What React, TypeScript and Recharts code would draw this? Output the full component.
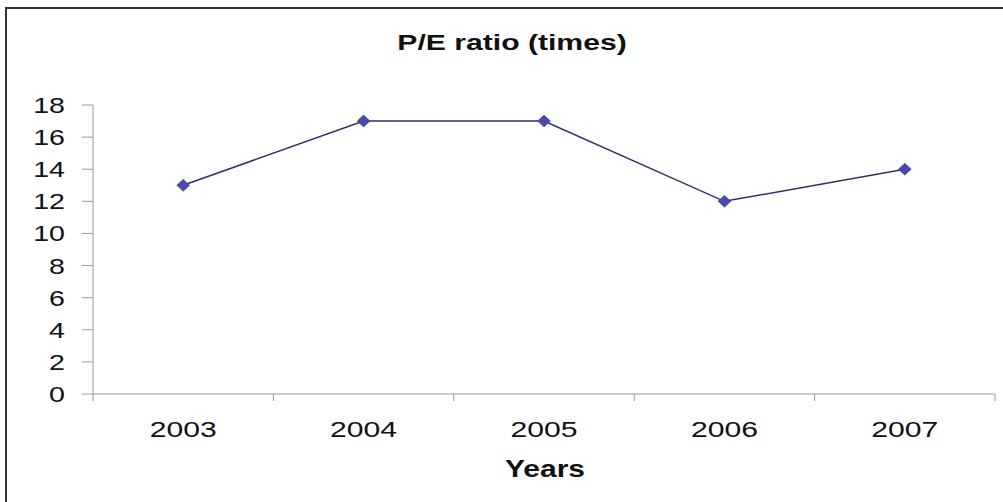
import React from "react";
import { LineChart, Line, XAxis, YAxis } from "recharts";

const YEARS = ["2003", "2004", "2005", "2006", "2007"];
const PE_RATIO = [13, 17, 17, 12, 14];
const Y_TICKS = [0, 2, 4, 6, 8, 10, 12, 14, 16, 18];

const data = YEARS.map((year, i) => ({ year, pe: PE_RATIO[i] }));

const FONT = "'Liberation Sans', Arial, sans-serif";
const AXIS = "#9a9a9a";
const STRETCH = 1.37;

function Diamond(props: any) {
  const { cx, cy, index } = props;
  if (cx == null || cy == null) return <g key={`d-${index}`} />;
  return (
    <polygon
      key={`d-${index}`}
      points={`${cx},${cy - 6} ${cx + 6.5},${cy} ${cx},${cy + 6} ${cx - 6.5},${cy}`}
      fill="#4a4aa8"
      stroke="#3c3c96"
      strokeWidth={0.5}
    />
  );
}

function YearTick(props: any) {
  const { x, y, payload, index, visibleTicksCount } = props;
  const half = payload && payload.offset ? payload.offset : 90.2;
  const last = index === visibleTicksCount - 1;
  return (
    <g>
      <line x1={x - half} y1={y} x2={x - half} y2={y + 7} stroke={AXIS} />
      {last && <line x1={x + half} y1={y} x2={x + half} y2={y + 7} stroke={AXIS} />}
      <g transform={`translate(${x},${y + 43})`}>
        <text
          transform={`scale(${STRETCH},1)`}
          textAnchor="middle"
          fontFamily={FONT}
          fontSize={22}
          fill="#111"
        >
          {payload.value}
        </text>
      </g>
    </g>
  );
}

function ValueTick(props: any) {
  const { x, y, payload } = props;
  return (
    <g transform={`translate(${x},${y + 8})`}>
      <text
        transform={`scale(1.3,1)`}
        textAnchor="end"
        fontFamily={FONT}
        fontSize={22}
        fill="#111"
      >
        {payload.value}
      </text>
    </g>
  );
}

export default function App() {
  return (
    <div
      style={{
        position: "absolute",
        left: 0,
        top: 0,
        width: 1003,
        height: 502,
        background: "#fff",
        fontFamily: FONT,
      }}
    >
      <div
        style={{
          position: "absolute",
          left: 5,
          top: 7,
          width: 998,
          height: 495,
          borderTop: "2px solid #333",
          borderLeft: "2px solid #333",
        }}
      />
      <div
        style={{
          position: "absolute",
          left: 512,
          top: 43,
          transform: "translate(-50%, -50%) scaleX(1.37)",
          fontWeight: "bold",
          fontSize: 22,
          lineHeight: 1,
          whiteSpace: "nowrap",
          color: "#111",
        }}
      >
        P/E ratio (times)
      </div>
      <div
        style={{
          position: "absolute",
          left: 545,
          top: 469,
          transform: "translate(-50%, -50%) scaleX(1.25)",
          fontWeight: "bold",
          fontSize: 24,
          lineHeight: 1,
          whiteSpace: "nowrap",
          color: "#111",
        }}
      >
        Years
      </div>
      <LineChart
        width={1003}
        height={502}
        data={data}
        margin={{ top: 105, right: 8, left: 0, bottom: 8 }}
      >
        <XAxis
          dataKey="year"
          scale="band"
          height={100}
          axisLine={{ stroke: AXIS }}
          tickLine={false}
          tickSize={0}
          tickMargin={0}
          interval={0}
          tick={<YearTick />}
        />
        <YAxis
          width={93}
          domain={[0, 18]}
          ticks={Y_TICKS}
          interval={0}
          axisLine={{ stroke: AXIS }}
          tickLine={{ stroke: AXIS }}
          tickSize={11}
          tickMargin={17}
          tick={<ValueTick />}
        />
        <Line
          dataKey="pe"
          type="linear"
          stroke="#2e2e6e"
          strokeWidth={1.5}
          dot={Diamond}
          activeDot={false}
          isAnimationActive={false}
        />
      </LineChart>
    </div>
  );
}
